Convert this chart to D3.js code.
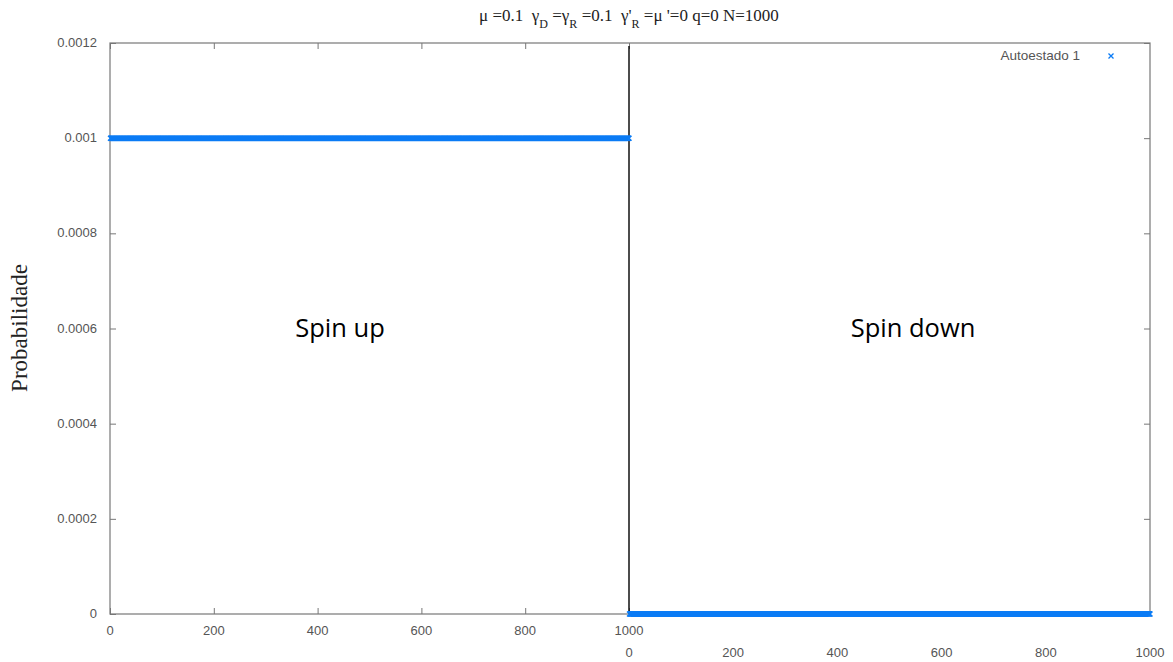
<!DOCTYPE html>
<html>
<head>
<meta charset="utf-8">
<script src="https://cdn.jsdelivr.net/npm/d3@7"></script>
<style>
  body { margin: 0; background: #fff; }
  svg text { fill: #555; }
</style>
</head>
<body>
<div id="chart"></div>
<script>
// Chart size
var width = 1173,
    height = 662;

// Plot area
var plotLeft = 110, plotRight = 1150, plotTop = 43, plotBottom = 614, plotMid = 629;

// Data (1000 sites per spin component)
var nSites = 1000;
var spinUp = Array(nSites).fill(0.001);
var spinDown = Array(nSites).fill(0.0);
var yTicks = [0, 0.0002, 0.0004, 0.0006, 0.0008, 0.001, 0.0012];
var yTickLabels = ["0", "0.0002", "0.0004", "0.0006", "0.0008", "0.001", "0.0012"];
var xTicks = [0, 200, 400, 600, 800, 1000];
var panelLabels = ["Spin up", "Spin down"];
var legendLabel = "Autoestado 1";

var svg = d3.select("#chart")
            .append("svg")
             .attr("width", width)
             .attr("height", height);

// Scales
var scaleY = d3.scaleLinear().domain([0, 0.0012]).range([plotBottom, plotTop]);
var scaleUp = d3.scaleLinear().domain([0, 1000]).range([plotLeft, plotMid]);
var scaleDown = d3.scaleLinear().domain([0, 1000]).range([plotMid, plotRight]);

var frameColor = "#777";

// Frame
svg.append("rect")
   .attr("x", plotLeft).attr("y", plotTop)
   .attr("width", plotRight - plotLeft).attr("height", plotBottom - plotTop)
   .attr("fill", "none").attr("stroke", frameColor).attr("stroke-width", 1.2);

// Y axes (left labels, inward ticks on both sides)
var yLeft = svg.append("g").attr("transform", "translate(" + plotLeft + ",0)")
   .call(d3.axisRight(scaleY).tickValues(yTicks).tickSize(6).tickFormat(""));
var yRight = svg.append("g").attr("transform", "translate(" + plotRight + ",0)")
   .call(d3.axisLeft(scaleY).tickValues(yTicks).tickSize(6).tickFormat(""));
[yLeft, yRight].forEach(function(g) {
  g.select(".domain").remove();
  g.selectAll("line").attr("stroke", frameColor);
});
svg.selectAll(".ylab")
   .data(yTicks)
   .enter()
   .append("text")
    .attr("x", plotLeft - 13)
    .attr("y", function(d) { return scaleY(d) + 4; })
    .attr("text-anchor", "end")
    .attr("font-family", "Liberation Sans, Arial, sans-serif")
    .attr("font-size", 13)
    .text(function(d, i) { return yTickLabels[i]; });

// X axis for spin up (bottom) with mirrored top ticks
var xBottom = svg.append("g").attr("transform", "translate(0," + plotBottom + ")")
   .call(d3.axisTop(scaleUp).tickValues(xTicks).tickSize(6).tickFormat(""));
var xTop = svg.append("g").attr("transform", "translate(0," + plotTop + ")")
   .call(d3.axisBottom(scaleUp).tickValues(xTicks).tickSize(6).tickFormat(""));
[xBottom, xTop].forEach(function(g) {
  g.select(".domain").remove();
  g.selectAll("line").attr("stroke", frameColor);
});
svg.selectAll(".xlab1")
   .data(xTicks)
   .enter()
   .append("text")
    .attr("x", function(d) { return scaleUp(d); })
    .attr("y", plotBottom + 21)
    .attr("text-anchor", "middle")
    .attr("font-family", "Liberation Sans, Arial, sans-serif")
    .attr("font-size", 13)
    .text(function(d) { return d; });

// Second x axis labels for spin down
svg.selectAll(".xlab2")
   .data(xTicks)
   .enter()
   .append("text")
    .attr("x", function(d) { return scaleDown(d); })
    .attr("y", plotBottom + 43)
    .attr("text-anchor", "middle")
    .attr("font-family", "Liberation Sans, Arial, sans-serif")
    .attr("font-size", 13)
    .text(function(d) { return d; });

// Divider between spin components
svg.append("line")
   .attr("x1", plotMid).attr("x2", plotMid)
   .attr("y1", plotTop + 3).attr("y2", plotBottom)
   .attr("stroke", "#111").attr("stroke-width", 1.5);

// Points (small crosses)
var blue = "#0a7bf5";
function cross(x, y) {
  var s = 2.5;
  return "M" + (x - s) + "," + (y - s) + "L" + (x + s) + "," + (y + s) +
         "M" + (x - s) + "," + (y + s) + "L" + (x + s) + "," + (y - s);
}
svg.append("path")
   .attr("d", spinUp.map(function(d, i) { return cross(scaleUp(i + 1), scaleY(d)); }).join(""))
   .attr("stroke", blue).attr("stroke-width", 1.5).attr("fill", "none");
svg.append("path")
   .attr("d", spinDown.map(function(d, i) { return cross(scaleDown(i + 1), scaleY(d)); }).join(""))
   .attr("stroke", blue).attr("stroke-width", 1.5).attr("fill", "none");

// Panel labels
svg.selectAll(".panel")
   .data(panelLabels)
   .enter()
   .append("text")
    .attr("x", function(d, i) { return i === 0 ? 340 : 913; })
    .attr("y", 337)
    .attr("text-anchor", "middle")
    .attr("font-family", "Open Sans, Liberation Sans, sans-serif")
    .attr("font-size", 25.5)
    .style("fill", "#000")
    .text(function(d) { return d; });

// Legend
svg.append("text")
   .attr("x", 1080).attr("y", 60)
   .attr("text-anchor", "end")
   .attr("font-family", "Liberation Sans, Arial, sans-serif")
   .attr("font-size", 13.5)
   .text(legendLabel);
svg.append("path")
   .attr("d", cross(1111, 56))
   .attr("stroke", blue).attr("stroke-width", 1.3);

// Y label
svg.append("text")
   .attr("transform", "translate(27," + 328 + ") rotate(-90)")
   .attr("text-anchor", "middle")
   .attr("font-family", "Liberation Serif, Times New Roman, serif")
   .attr("font-size", 23)
   .style("fill", "#222")
   .text("Probabilidade");

// Title
var title = svg.append("text")
   .attr("x", 629).attr("y", 21)
   .attr("text-anchor", "middle")
   .attr("font-family", "Liberation Serif, Times New Roman, serif")
   .attr("font-size", 17)
   .style("fill", "#222")
   .style("white-space", "pre");
title.append("tspan").text("μ =0.1  γ");
title.append("tspan").attr("baseline-shift", "sub").attr("font-size", 12).text("D");
title.append("tspan").text(" =γ");
title.append("tspan").attr("baseline-shift", "sub").attr("font-size", 12).text("R");
title.append("tspan").text(" =0.1  γ'");
title.append("tspan").attr("baseline-shift", "sub").attr("font-size", 12).text("R");
title.append("tspan").text(" =μ '=0 q=0 N=1000");
</script>
</body>
</html>
